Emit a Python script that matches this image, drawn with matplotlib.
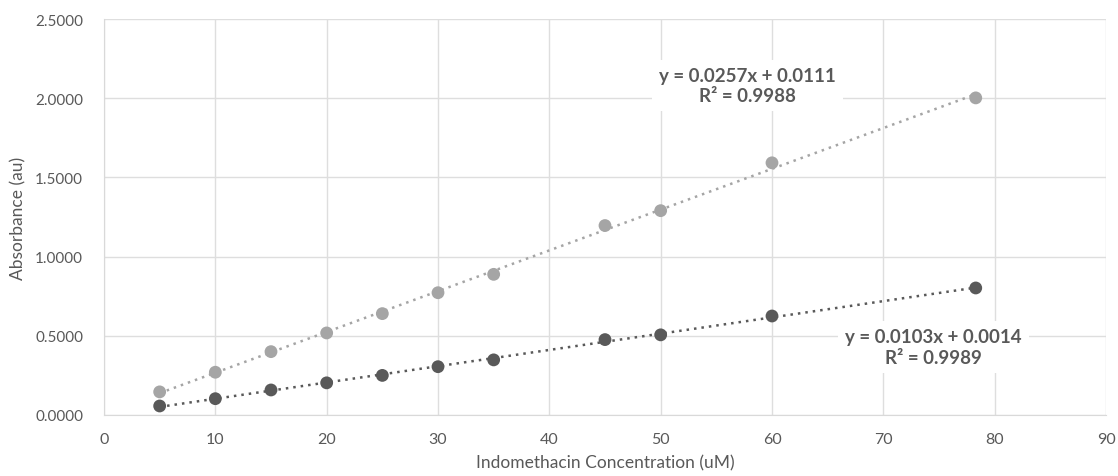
import matplotlib
matplotlib.use("Agg")
import matplotlib.pyplot as plt
import numpy as np

conc = [5, 10, 15, 20, 25, 30, 35, 45, 50, 60, 78.3]
abs_light = [0.146, 0.270, 0.400, 0.518, 0.640, 0.772, 0.888, 1.196, 1.290, 1.592, 2.002]
abs_dark = [0.057, 0.103, 0.158, 0.203, 0.250, 0.305, 0.348, 0.476, 0.506, 0.625, 0.802]
eq_light = "y = 0.0257x + 0.0111\nR² = 0.9988"
eq_dark = "y = 0.0103x + 0.0014\nR² = 0.9989"
xticks = [0, 10, 20, 30, 40, 50, 60, 70, 80, 90]
yticks = [0.0, 0.5, 1.0, 1.5, 2.0, 2.5]

plt.rcParams['font.family'] = ['Lato', 'DejaVu Sans']
fig = plt.figure(figsize=(11.18, 4.77), dpi=100)
ax = fig.add_axes([104/1118, 1-416/477, (1106-104)/1118, (416-20)/477])

light = '#a5a5a5'
dark = '#595959'
tc = '#595959'

x = np.array(conc)
for ys, col in ((abs_light, light), (abs_dark, dark)):
    ys = np.array(ys)
    m, b = np.polyfit(x, ys, 1)
    xx = np.array([x.min(), x.max()])
    ax.plot(xx, m*xx + b, linestyle=(0, (1, 2)), color=col, linewidth=1.8, zorder=2)
    ax.scatter(x, ys, s=85, color=col, zorder=3, edgecolors='none')

ax.set_xlim(0, 90)
ax.set_ylim(0, 2.5)
ax.set_xticks(xticks)
ax.set_yticks(yticks)
ax.set_yticklabels([f"{v:.4f}" for v in yticks])
ax.grid(True, color='#dedede', linewidth=1)
ax.set_axisbelow(True)
for s in ['top', 'right']:
    ax.spines[s].set_visible(False)
for s in ['left', 'bottom']:
    ax.spines[s].set_color('#d9d9d9')
ax.tick_params(axis='y', length=0, colors=tc, labelsize=11, pad=15)
ax.tick_params(axis='x', length=0, colors=tc, labelsize=11.5, pad=12)
ax.set_xlabel("Indomethacin Concentration (uM)", color=tc, fontsize=12.5, labelpad=6)
ax.set_ylabel("Absorbance (au)", color=tc, fontsize=12.5, labelpad=6)

ax.text(57.8, 2.08, eq_light, ha='center', va='center', fontsize=13.5, fontweight='bold',
        color=tc, linespacing=1.25,
        bbox=dict(facecolor='white', edgecolor='none', pad=5))
ax.text(74.5, 0.43, eq_dark, ha='center', va='center', fontsize=13.5, fontweight='bold',
        color=tc, linespacing=1.25,
        bbox=dict(facecolor='white', edgecolor='none', pad=5))

fig.savefig("out.png", dpi=100)
